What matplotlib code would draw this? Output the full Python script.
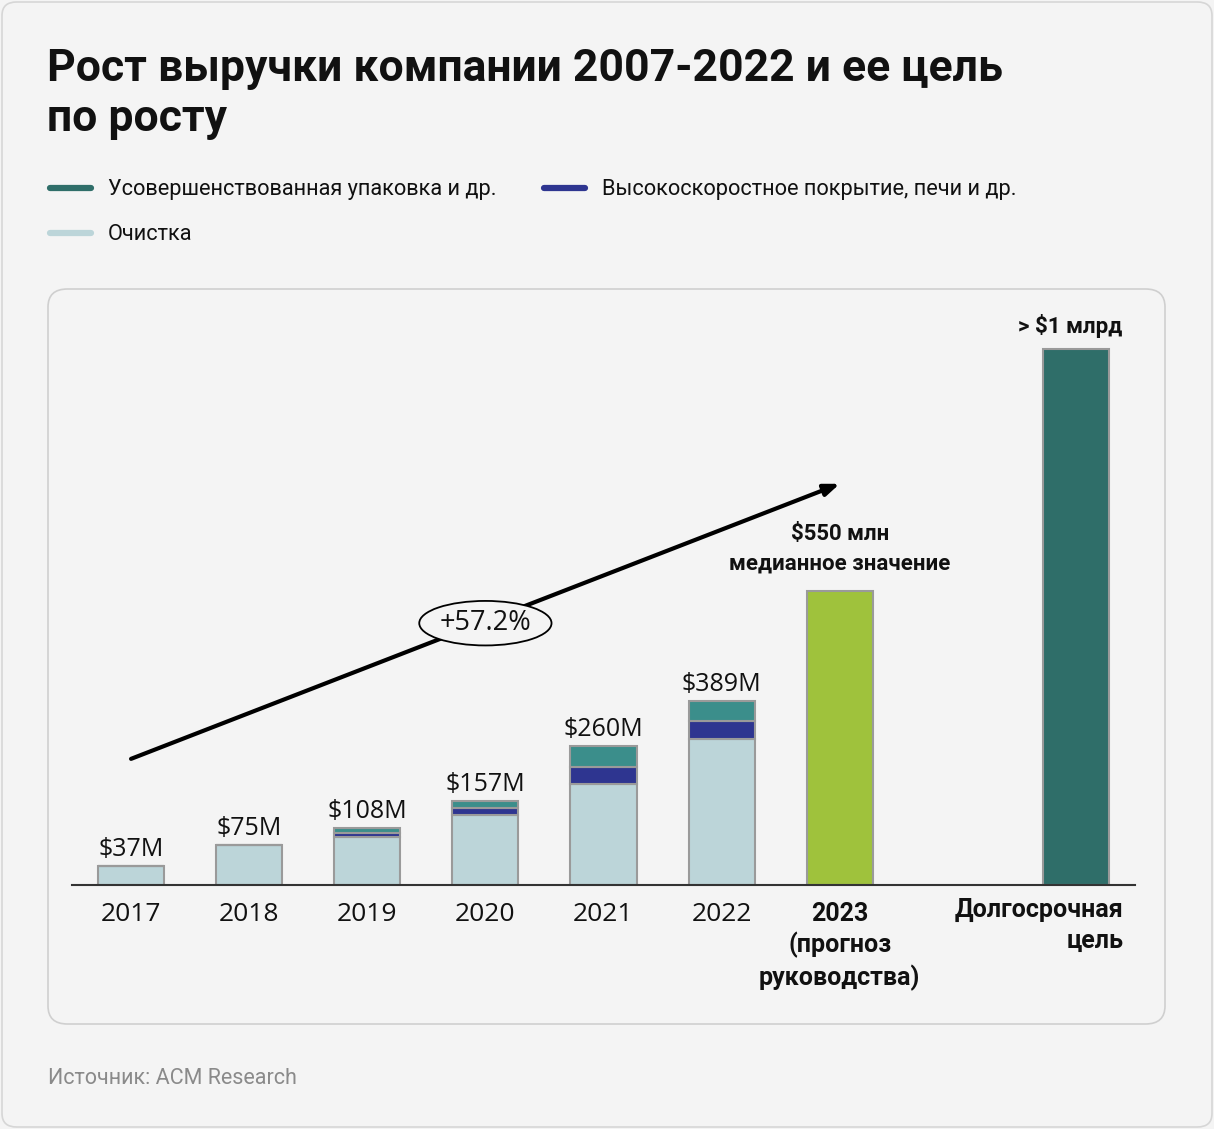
import matplotlib.pyplot as plt
from matplotlib.patches import Ellipse, FancyBboxPatch

BG = "#f4f4f4"
LIGHT = "#bcd5d9"
BLUE = "#2e3590"
TEAL = "#3b8e8b"
TEAL_DARK = "#2f6e69"
GREEN = "#9fc23c"

# bar segments (in $M, as drawn)
years = ["2017", "2018", "2019", "2020", "2021", "2022"]
cleaning = [36, 75, 91, 132, 190, 275]
coating = [0, 0, 7, 13, 32, 34]
packaging = [0, 0, 10, 13, 40, 38]
bar_labels = ["$37M", "$75M", "$108M", "$157M", "$260M", "$389M"]

forecast_value = 555
forecast_label = "$550 млн\nмедианное значение"
forecast_tick = "2023\n(прогноз\nруководства)"
goal_value = 1011
goal_label = "> $1 млрд"
goal_tick = "Долгосрочная\nцель"

legend_names = ["Усовершенствованная упаковка и др.",
                "Высокоскоростное покрытие, печи и др.",
                "Очистка"]
cagr_text = "+57.2%"

W, H = 1214, 1129
fig = plt.figure(figsize=(W / 100, H / 100), dpi=100)
fig.patch.set_facecolor(BG)


def fx(px):
    return px / W


def fy(py):
    return 1 - py / H


# outer frame and inner panel
fig.patches.append(FancyBboxPatch((fx(2), fy(1127)), fx(1210), 1125 / H,
                                  boxstyle="round,pad=0,rounding_size=0.012",
                                  transform=fig.transFigure, facecolor=BG,
                                  edgecolor="#d6d6d6", lw=1.2, zorder=-10))
fig.patches.append(FancyBboxPatch((fx(48), fy(1024)), fx(1117), 735 / H,
                                  boxstyle="round,pad=0,rounding_size=0.016",
                                  transform=fig.transFigure, facecolor=BG,
                                  edgecolor="#cfcfcf", lw=1.2, zorder=-9))

fig.text(fx(47), fy(94), "Рост выручки компании 2007-2022 и ее цель\nпо росту",
         fontsize=32, fontweight="bold", family="Roboto", va="center",
         linespacing=1.22, color="#111111")

# legend
leg = [(48, 188, TEAL_DARK, legend_names[0]),
       (542, 188, BLUE, legend_names[1]),
       (48, 233, LIGHT, legend_names[2])]
for x0, y0, c, name in leg:
    fig.add_artist(plt.Line2D([fx(x0 + 2), fx(x0 + 43)], [fy(y0), fy(y0)],
                              color=c, lw=4.5, solid_capstyle="round"))
    fig.text(fx(x0 + 60), fy(y0 + 2), name, fontsize=15.7, family="Roboto",
             va="center", color="#111111")

fig.text(fx(48), fy(1079), "Источник: ACM Research", fontsize=15.5,
         family="Roboto", va="center", color="#8a8a8a")

# chart
ax = fig.add_axes([fx(72), fy(885), fx(1135 - 72), (885 - 300) / H])
ax.set_facecolor("none")
ax.set_xlim(-0.5, 8.5)
ax.set_ylim(0, 585 / 0.53)

xs = list(range(len(years)))
bw = 0.56
edge = dict(edgecolor="#9a9a9a", linewidth=1.5)
bottoms2 = [a + b for a, b in zip(cleaning, coating)]
ax.bar(xs, cleaning, bw, color=LIGHT, **edge)
ax.bar(xs, coating, bw, bottom=cleaning, color=BLUE, **edge)
ax.bar(xs, packaging, bw, bottom=bottoms2, color=TEAL, **edge)
totals = [a + b for a, b in zip(bottoms2, packaging)]
for x, t, lab in zip(xs, totals, bar_labels):
    ax.text(x, t + 8, lab, ha="center", va="bottom", fontsize=18,
            family="Open Sans", color="#111111")

ax.bar([6], [forecast_value], bw, color=GREEN, **edge)
ax.text(6, forecast_value + 30, forecast_label, ha="center", va="bottom",
        fontsize=16, fontweight="bold", family="Roboto", linespacing=1.45,
        color="#111111")
ax.bar([8], [goal_value], bw, color=TEAL_DARK, **edge)
ax.text(7.95, goal_value + 22, goal_label, ha="center", va="bottom",
        fontsize=16, fontweight="bold", family="Roboto", color="#111111")

# growth arrow
ax.annotate("", xy=(6.0, 757), xytext=(0.0, 238),
            arrowprops=dict(arrowstyle="-|>,head_length=0.9,head_width=0.35",
                            color="black", lw=3, shrinkA=0, shrinkB=0))
ax.add_patch(Ellipse((3.0, 494), 1.12, 84, facecolor=BG, edgecolor="black",
                     lw=1.3, zorder=5))
ax.text(3.0, 494, cagr_text, ha="center", va="center", fontsize=19.5,
        family="Open Sans", zorder=6, color="#111111")

# axis
for s in ["top", "right", "left"]:
    ax.spines[s].set_visible(False)
ax.spines["bottom"].set_color("#333333")
ax.spines["bottom"].set_linewidth(1.5)
ax.set_yticks([])
ax.set_xticks(xs + [6], years + [forecast_tick])
ax.tick_params(axis="x", length=0, pad=12)
for i, lab in enumerate(ax.get_xticklabels()):
    if i < len(years):
        lab.set_fontsize(19)
        lab.set_family("Open Sans")
    else:
        lab.set_fontsize(18)
        lab.set_fontweight("bold")
        lab.set_family("Roboto")
        lab.set_linespacing(1.3)
    lab.set_color("#111111")
ax.text(8.4, -25, goal_tick, ha="right", va="top", fontsize=18,
        fontweight="bold", family="Roboto", linespacing=1.35, color="#111111")

fig.savefig("out.png", dpi=100, facecolor=BG)
